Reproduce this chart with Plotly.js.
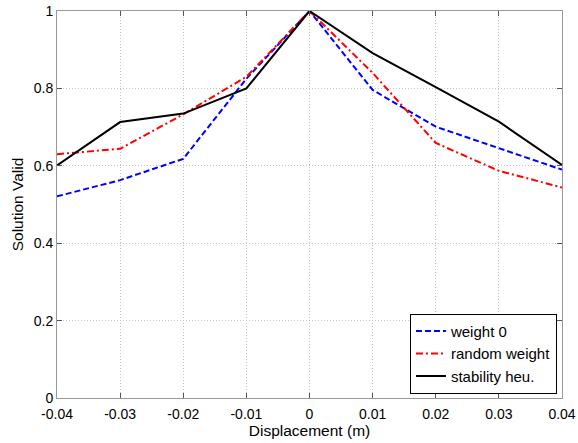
<!DOCTYPE html>
<html>
<head>
<meta charset="utf-8">
<script src="https://cdn.plot.ly/plotly-3.0.1.min.js"></script>
<style>html,body{margin:0;padding:0;background:#fff;}#chart{width:578px;height:443px;}</style>
</head>
<body>
<div id="chart"></div>
<script>
const displacement = [-0.04, -0.03, -0.02, -0.01, 0, 0.01, 0.02, 0.03, 0.04];
const weight0 = [0.521, 0.563, 0.618, 0.825, 1.0, 0.796, 0.701, 0.645, 0.590];
const randomWeight = [0.630, 0.644, 0.733, 0.830, 1.0, 0.840, 0.659, 0.587, 0.544];
const stabilityHeu = [0.601, 0.713, 0.735, 0.800, 1.0, 0.891, 0.803, 0.714, 0.602];
const seriesNames = ['weight 0', 'random weight', 'stability heu.'];
const xTicks = [-0.04, -0.03, -0.02, -0.01, 0, 0.01, 0.02, 0.03, 0.04];
const xTickLabels = ['-0.04', '-0.03', '-0.02', '-0.01', '0', '0.01', '0.02', '0.03', '0.04'];
const yTicks = [0, 0.2, 0.4, 0.6, 0.8, 1];
const yTickLabels = ['0', '0.2', '0.4', '0.6', '0.8', '1'];

const fam = 'Liberation Sans, Arial, sans-serif';
const tickFont = {family: fam, size: 14, color: '#000'};
const titleFont = {family: fam, size: 15.5, color: '#000'};
const legendFont = {family: fam, size: 15, color: '#000'};
const traces = [
  {x: displacement, y: weight0, name: seriesNames[0], mode: 'lines', line: {color: '#0000ff', width: 2, dash: '6px,3px'}},
  {x: displacement, y: randomWeight, name: seriesNames[1], mode: 'lines', line: {color: '#ff0000', width: 2, dash: '7px,3px,2px,3px'}},
  {x: displacement, y: stabilityHeu, name: seriesNames[2], mode: 'lines', line: {color: '#000000', width: 2}}
];
const axisCommon = {
  showline: true, linecolor: '#999', linewidth: 1, mirror: 'ticks',
  ticks: 'inside', ticklen: 5, tickcolor: '#555',
  showgrid: true, gridcolor: '#c4c4c4', griddash: '1px,2px', gridwidth: 1,
  zeroline: false, tickfont: tickFont
};
const layout = {
  width: 578, height: 443,
  margin: {l: 57, r: 16, t: 11, b: 45, pad: 0},
  paper_bgcolor: '#fff', plot_bgcolor: '#fff',
  font: tickFont,
  showlegend: true,
  legend: {x: 0.99, xanchor: 'right', y: 0.011, yanchor: 'bottom', bgcolor: '#fff',
           bordercolor: '#000', borderwidth: 1, font: legendFont, tracegroupgap: 0,
           itemwidth: 30},
  xaxis: Object.assign({}, axisCommon, {
    range: [-0.04, 0.04], tickvals: xTicks, ticktext: xTickLabels,
    ticklabelstandoff: 3,
    title: {text: 'Displacement (m)', font: titleFont, standoff: 4}
  }),
  yaxis: Object.assign({}, axisCommon, {
    range: [0, 1], tickvals: yTicks, ticktext: yTickLabels,
    title: {text: 'Solution Valid', font: titleFont, standoff: 6}
  })
};
Plotly.newPlot('chart', traces, layout, {staticPlot: true, displayModeBar: false});
</script>
</body>
</html>
